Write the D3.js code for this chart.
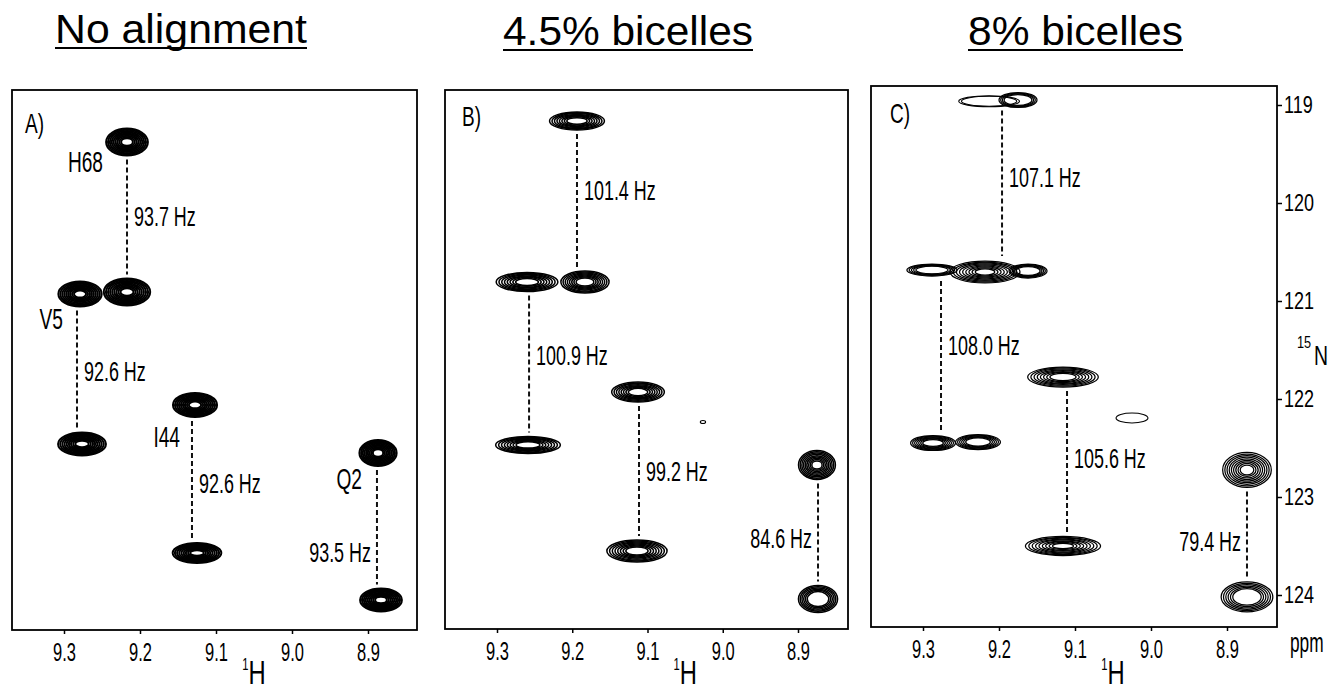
<!DOCTYPE html>
<html><head><meta charset="utf-8">
<script src="https://cdn.jsdelivr.net/npm/d3@7"></script>
<style>
html,body{margin:0;padding:0;background:#fff;}
svg{display:block;font-family:"Liberation Sans",Arial,Helvetica,sans-serif;}
</style></head><body>
<svg id="chart" width="1328" height="691"></svg>
<script>
// ================= DATA =================
const panelLetters = ["A)", "B)", "C)"];
const panelTitles = ["No alignment", "4.5% bicelles", "8% bicelles"];
const hTicks = [9.3, 9.2, 9.1, 9.0, 8.9];
const hTickLabels = ["9.3", "9.2", "9.1", "9.0", "8.9"];
const nTicks = [119, 120, 121, 122, 123, 124];
const nTickLabels = ["119", "120", "121", "122", "123", "124"];

// peaks: 1H shift, 15N shift, 1H linewidth, 15N linewidth (ppm), number of contour levels above threshold
const peaksA = [
  {h: 9.2171, n: 119.378, wh: 0.055, wn: 0.276, lv: 9},
  {h: 9.2171, n: 120.908, wh: 0.061, wn: 0.276, lv: 9},
  {h: 9.2789, n: 120.929, wh: 0.057, wn: 0.255, lv: 9},
  {h: 9.2763, n: 122.459, wh: 0.063, wn: 0.235, lv: 9},
  {h: 9.1276, n: 122.061, wh: 0.058, wn: 0.245, lv: 9},
  {h: 9.1250, n: 123.571, wh: 0.064, wn: 0.204, lv: 9},
  {h: 8.8868, n: 122.551, wh: 0.049, wn: 0.265, lv: 9},
  {h: 8.8829, n: 124.051, wh: 0.055, wn: 0.235, lv: 9}
];
const peaksB = [
  {h: 9.1937, n: 119.163, wh: 0.073, wn: 0.184, lv: 8},
  {h: 9.2601, n: 120.806, wh: 0.082, wn: 0.194, lv: 8},
  {h: 9.1831, n: 120.806, wh: 0.064, wn: 0.224, lv: 8},
  {h: 9.2588, n: 122.469, wh: 0.086, wn: 0.173, lv: 8},
  {h: 9.1126, n: 121.929, wh: 0.070, wn: 0.204, lv: 8},
  {h: 9.1140, n: 123.551, wh: 0.080, wn: 0.224, lv: 8},
  {h: 8.8748, n: 122.673, wh: 0.049, wn: 0.296, lv: 9},
  {h: 8.8734, n: 124.041, wh: 0.052, wn: 0.276, lv: 6},
  {h: 9.0263, n: 122.235, wh: 0.007, wn: 0.030, lv: 1}
];
const peaksC = [
  {h: 9.2130, n: 118.962, wh: 0.080, wn: 0.112, lv: 2},
  {h: 9.1750, n: 118.949, wh: 0.050, wn: 0.153, lv: 4},
  {h: 9.2882, n: 120.684, wh: 0.066, wn: 0.122, lv: 5},
  {h: 9.2184, n: 120.704, wh: 0.092, wn: 0.224, lv: 9},
  {h: 9.1618, n: 120.694, wh: 0.050, wn: 0.143, lv: 5},
  {h: 9.2868, n: 122.449, wh: 0.059, wn: 0.153, lv: 7},
  {h: 9.2276, n: 122.439, wh: 0.059, wn: 0.153, lv: 6},
  {h: 9.1158, n: 121.776, wh: 0.093, wn: 0.204, lv: 8},
  {h: 9.1158, n: 123.500, wh: 0.099, wn: 0.194, lv: 9},
  {h: 8.8737, n: 122.724, wh: 0.064, wn: 0.357, lv: 9},
  {h: 8.8737, n: 124.020, wh: 0.068, wn: 0.306, lv: 6},
  {h: 9.0250, n: 122.194, wh: 0.042, wn: 0.102, lv: 1}
];

// splittings: 1H position, upper and lower 15N component, coupling label
const couplingsA = [
  {h: 9.2171, n1: 119.378, n2: 120.908, label: "93.7 Hz", side: "right"},
  {h: 9.2829, n1: 120.929, n2: 122.459, label: "92.6 Hz", side: "right"},
  {h: 9.1316, n1: 122.061, n2: 123.571, label: "92.6 Hz", side: "right"},
  {h: 8.8882, n1: 122.551, n2: 124.051, label: "93.5 Hz", side: "left"}
];
const couplingsB = [
  {h: 9.1937, n1: 119.163, n2: 120.806, label: "101.4 Hz", side: "right"},
  {h: 9.2574, n1: 120.806, n2: 122.469, label: "100.9 Hz", side: "right"},
  {h: 9.1113, n1: 121.929, n2: 123.551, label: "99.2 Hz", side: "right"},
  {h: 8.8734, n1: 122.673, n2: 124.041, label: "84.6 Hz", side: "left"}
];
const couplingsC = [
  {h: 9.1960, n1: 118.959, n2: 120.694, label: "107.1 Hz", side: "right"},
  {h: 9.2763, n1: 120.694, n2: 122.449, label: "108.0 Hz", side: "right"},
  {h: 9.1105, n1: 121.776, n2: 123.500, label: "105.6 Hz", side: "right"},
  {h: 8.8737, n1: 122.724, n2: 124.020, label: "79.4 Hz", side: "left"}
];
// residue assignments (panel A), attached to coupling index
const residueNames = ["H68", "V5", "I44", "Q2"];

// ================= LAYOUT / STYLE =================
const panelLayout = [
  {left: 12,  right: 417,  top: 90, bottom: 630, x93: 64,  x89: 368,  sw: 2.0, letter: [25, 133],
   title: {x: 55, w: 252, y: 43}, labelNudge: [-1, 2, 4, 25]},
  {left: 445, right: 848,  top: 90, bottom: 629, x93: 497, x89: 798,  sw: 1.5, letter: [462, 126],
   title: {x: 503, w: 250, y: 45}, labelNudge: [-12, -9, -1, 6]},
  {left: 871, right: 1277, top: 86, bottom: 627, x93: 923, x89: 1227, sw: 1.25, letter: [890, 123],
   title: {x: 968, w: 215, y: 45}, labelNudge: [-9, -12, -4, 7]}
];
const residueOffsets = [[-24, 30], [-14, 35], [-12, 42], [-15, 36]];
const allPeaks = [peaksA, peaksB, peaksC];
const allCouplings = [couplingsA, couplingsB, couplingsC];

const svg = d3.select("#chart");
svg.append("rect").attr("width", 1328).attr("height", 691).attr("fill", "#fff");

const y = d3.scaleLinear().domain([119, 124]).range([105, 595]);

function sText(parent, x, yy, str, size, sx, anchor, dy) {
  const g = parent.append("g").attr("transform", `translate(${x},${yy}) scale(${sx},1)`);
  const t = g.append("text").attr("x", 0).attr("y", 0)
    .attr("font-size", size).attr("fill", "#000")
    .attr("text-anchor", anchor || "start").text(str);
  if (dy) t.attr("dy", dy);
  return t;
}

panelLayout.forEach((L, i) => {
  const x = d3.scaleLinear().domain([9.3, 8.9]).range([L.x93, L.x89]);
  const g = svg.append("g");

  // title
  g.append("text").attr("x", L.title.x).attr("y", L.title.y)
    .attr("font-size", 41).attr("fill", "#000")
    .attr("textLength", L.title.w).attr("lengthAdjust", "spacingAndGlyphs")
    .text(panelTitles[i]);
  g.append("line").attr("x1", L.title.x).attr("x2", L.title.x + L.title.w)
    .attr("y1", L.title.y + 5).attr("y2", L.title.y + 5)
    .attr("stroke", "#000").attr("stroke-width", 2);

  // frame
  g.append("rect").attr("x", L.left).attr("y", L.top)
    .attr("width", L.right - L.left).attr("height", L.bottom - L.top)
    .attr("fill", "none").attr("stroke", "#000").attr("stroke-width", 1.8);

  // peaks as nested contour ellipses
  const peaks = allPeaks[i];
  const pg = g.append("g");
  peaks.forEach(p => {
    const rx = Math.abs(x(p.h + p.wh / 2) - x(p.h - p.wh / 2)) / 2;
    const ry = Math.abs(y(p.n + p.wn / 2) - y(p.n - p.wn / 2)) / 2;
    const levels = d3.range(p.lv).map(k => 1 - k * 0.09);
    pg.selectAll(null).data(levels).enter().append("ellipse")
      .attr("cx", x(p.h)).attr("cy", y(p.n))
      .attr("rx", f => Math.max(rx * f, 0.8)).attr("ry", f => Math.max(ry * f, 0.6))
      .attr("fill", "none").attr("stroke", "#000")
      .attr("stroke-width", p.lv <= 2 ? 1.1 : L.sw);
  });

  // couplings
  const nearestRy = (hh, nn) => {
    let best = null, bd = Infinity;
    peaks.forEach(p => {
      const d = Math.hypot(x(p.h) - x(hh), y(p.n) - y(nn));
      if (d < bd) { bd = d; best = p; }
    });
    return Math.abs(y(best.n + best.wn / 2) - y(best.n - best.wn / 2)) / 2;
  };
  allCouplings[i].forEach((c, j) => {
    const y1 = y(c.n1) + nearestRy(c.h, c.n1) + 4;
    const y2 = y(c.n2) - nearestRy(c.h, c.n2) - 4;
    g.append("line").attr("x1", x(c.h)).attr("x2", x(c.h))
      .attr("y1", y1).attr("y2", y2)
      .attr("stroke", "#111").attr("stroke-width", 2).attr("stroke-dasharray", "5,3");
    const ym = (y(c.n1) + y(c.n2)) / 2 + L.labelNudge[j];
    if (c.side === "right") sText(g, x(c.h) + 7, ym, c.label, 28, 0.64, "start", "0.36em");
    else sText(g, x(c.h) - 6, ym, c.label, 28, 0.64, "end", "0.36em");
    if (i === 0) {
      const o = residueOffsets[j];
      sText(g, x(c.h) + o[0], y(c.n1) + o[1], residueNames[j], 29, 0.66, "end");
    }
  });

  // panel letter
  sText(g, L.letter[0], L.letter[1], panelLetters[i], 28, 0.68, "start");

  // bottom axis
  const ax = g.append("g").attr("transform", `translate(0,${L.bottom})`)
    .call(d3.axisBottom(x).tickValues(hTicks).tickFormat((d, k) => hTickLabels[k])
      .tickSize(4).tickPadding(9));
  ax.select(".domain").remove();
  ax.selectAll(".tick line").attr("stroke", "#000").attr("stroke-width", 1.5);
  ax.selectAll(".tick text").attr("font-size", 25).attr("fill", "#000")
    .attr("font-family", "Liberation Sans, Arial, sans-serif")
    .attr("transform", "scale(0.66,1)");

  // 1H label
  const hl = svg.append("g").attr("transform", `translate(${x(9.05)},684) scale(0.7,1)`)
    .append("text").attr("text-anchor", "middle").attr("fill", "#000");
  hl.append("tspan").attr("font-size", 16).attr("dy", -14).text("1");
  hl.append("tspan").attr("font-size", 34).attr("dy", 14).text("H");
});

// right 15N axis on panel C
const R = panelLayout[2];
const ay = svg.append("g").attr("transform", `translate(${R.right},0)`)
  .call(d3.axisRight(y).tickValues(nTicks).tickFormat((d, k) => nTickLabels[k])
    .tickSize(5).tickPadding(2));
ay.select(".domain").remove();
ay.selectAll(".tick line").attr("stroke", "#000").attr("stroke-width", 1.5);
ay.selectAll(".tick text").attr("font-size", 24).attr("fill", "#000")
  .attr("font-family", "Liberation Sans, Arial, sans-serif")
  .attr("x", 7 / 0.75).attr("transform", "scale(0.75,1)");

// 15N label
sText(svg, 1297, 348, "15", 17, 0.75, "start");
sText(svg, 1314, 365, "N", 27, 0.72, "start");
// ppm label
sText(svg, 1290, 652, "ppm", 27, 0.64, "start");
</script>
</body></html>
